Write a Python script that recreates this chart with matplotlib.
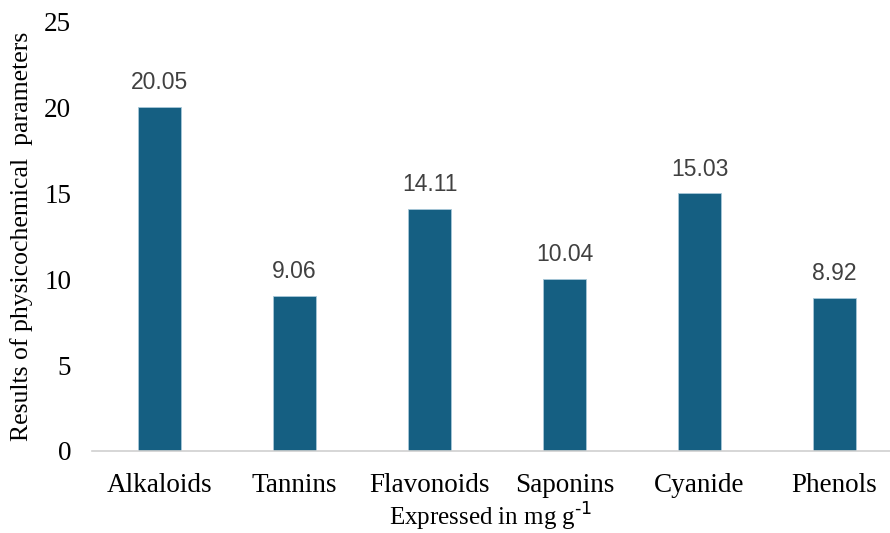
import matplotlib
matplotlib.use('Agg')
import matplotlib.pyplot as plt

# phytochemical contents, mg/g
categories = ['Alkaloids', 'Tannins', 'Flavonoids', 'Saponins', 'Cyanide', 'Phenols']
values = [20.05, 9.06, 14.11, 10.04, 15.03, 8.92]
yticks = [0, 5, 10, 15, 20, 25]

plt.rcParams['font.family'] = 'Liberation Serif'

fig = plt.figure(figsize=(8.9, 5.33), dpi=100)
ax = fig.add_axes([92 / 890, 1 - 451 / 533, 1 - 92 / 890, (451 - 22) / 533])

x = range(len(categories))
ax.bar(x, values, width=0.32, color='#155f82', edgecolor='#a8c8d8', linewidth=0.6, zorder=2)

for xi, v in zip(x, values):
    ax.annotate('{:.2f}'.format(v), (xi, v), xytext=(0, 9), textcoords='offset points',
                ha='center', va='bottom', fontsize=16.5, color='#404040',
                family='Liberation Sans')

ax.set_xlim(-0.5, 5.41)
ax.set_ylim(0, 25)
ax.set_yticks(yticks)
ax.set_xticks(list(x))
ax.set_xticklabels(categories)
ax.tick_params(axis='both', length=0, labelsize=19.5, colors='black')
ax.tick_params(axis='y', pad=15)
ax.tick_params(axis='x', pad=16)

for s in ['top', 'right', 'left']:
    ax.spines[s].set_visible(False)
ax.spines['bottom'].set_color('#d0d0d0')
ax.spines['bottom'].set_linewidth(1.2)

ax.set_ylabel('Results of physicochemical  parameters', fontsize=18.5, labelpad=8)
ax.set_xlabel(r'Expressed in mg g$^{\text{-1}}$', fontsize=18, labelpad=1.5)

fig.savefig('out.png', dpi=100)
